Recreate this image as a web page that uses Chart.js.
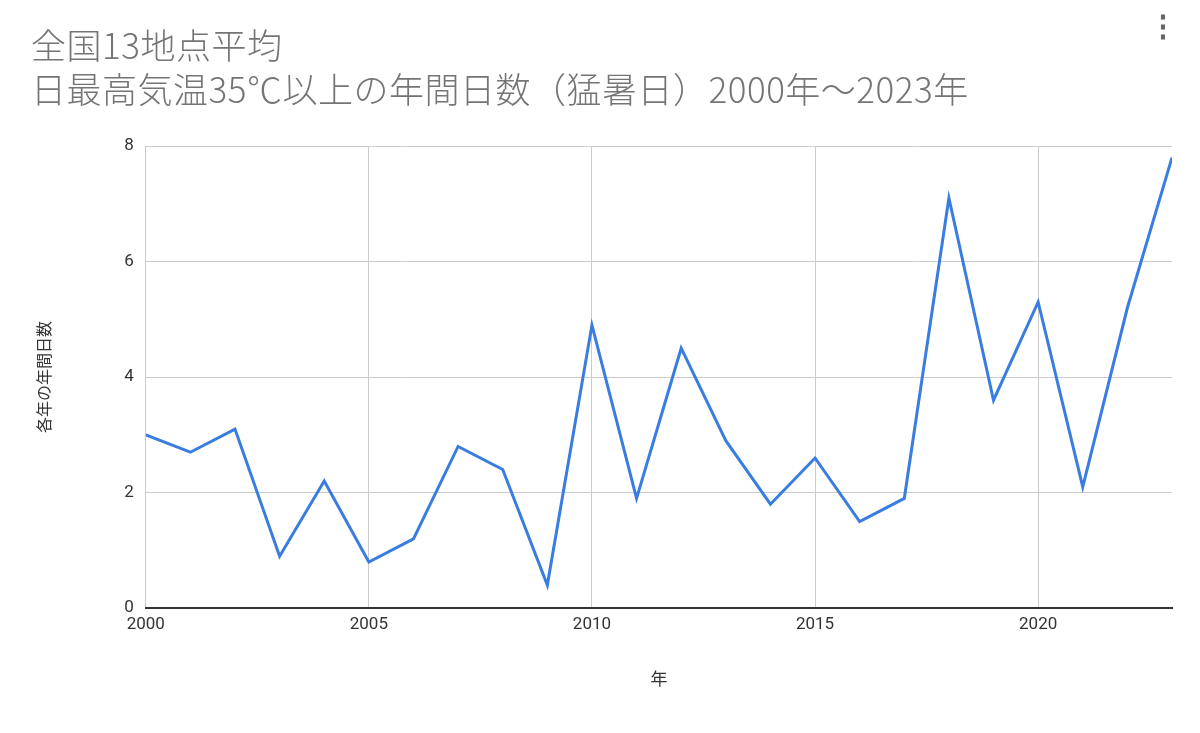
<!DOCTYPE html>
<html><head><meta charset="utf-8">
<script src="https://cdn.jsdelivr.net/npm/chart.js@4"></script>
<style>
body{margin:0;background:#fff;font-family:Roboto,"Noto Sans CJK JP",sans-serif}
#wrap{position:relative;width:1200px;height:733px}
#title{position:absolute;left:31px;top:22px;color:#757575;font-size:35px;line-height:44px;font-family:"Noto Sans CJK JP",Roboto,sans-serif;font-weight:300;letter-spacing:0.5px}
#dots{position:absolute;right:22px;top:8px;color:#666;font-size:30px;font-weight:bold}
canvas{position:absolute;left:0;top:0}
</style></head><body>
<div id="wrap">
<canvas id="c" width="1200" height="733"></canvas>
<div id="title">全国13地点平均<br>日最高気温35℃以上の年間日数（猛暑日）2000年～2023年</div>
<div id="dots">⋮</div>
</div>
<script>
const years = [2000,2001,2002,2003,2004,2005,2006,2007,2008,2009,2010,2011,2012,2013,2014,2015,2016,2017,2018,2019,2020,2021,2022,2023];
const days = [3.0,2.7,3.1,0.9,2.2,0.8,1.2,2.8,2.4,0.4,4.9,1.9,4.5,2.9,1.8,2.6,1.5,1.9,7.1,3.6,5.3,2.1,5.2,7.8];
const font = { family: 'Roboto, "Noto Sans CJK JP", sans-serif', size: 17 };

new Chart(document.getElementById('c'), {
    type: 'line',
    data: {
        datasets: [{
            data: years.map((y, i) => ({ x: y, y: days[i] })),
            borderColor: '#3a7de0',
            borderWidth: 3,
            pointRadius: 0,
            tension: 0
        }]
    },
    options: {
        responsive: false,
        animation: false,
        layout: { padding: { top: 146, left: 32, right: 28, bottom: 38 } },
        plugins: { legend: { display: false }, tooltip: { enabled: false } },
        scales: {
            x: {
                type: 'linear', min: 2000, max: 2023,
                afterBuildTicks: s => { s.ticks = s.ticks.filter(t => t.value % 5 === 0); },
                ticks: { stepSize: 5, color: '#333', font, callback: v => String(v), padding: 6 },
                grid: { color: '#ccc', drawTicks: false },
                border: { color: '#333', width: 2 },
                title: { display: true, text: '年', color: '#333', font, padding: { top: 30 } }
            },
            y: {
                min: 0, max: 8,
                ticks: { stepSize: 2, color: '#333', font, padding: 12 },
                grid: { color: '#ccc', drawTicks: false },
                border: { display: false },
                title: { display: true, text: '各年の年間日数', color: '#333', font: { ...font, size: 16 }, padding: { bottom: 57 } }
            }
        }
    }
});
</script>
</body></html>
